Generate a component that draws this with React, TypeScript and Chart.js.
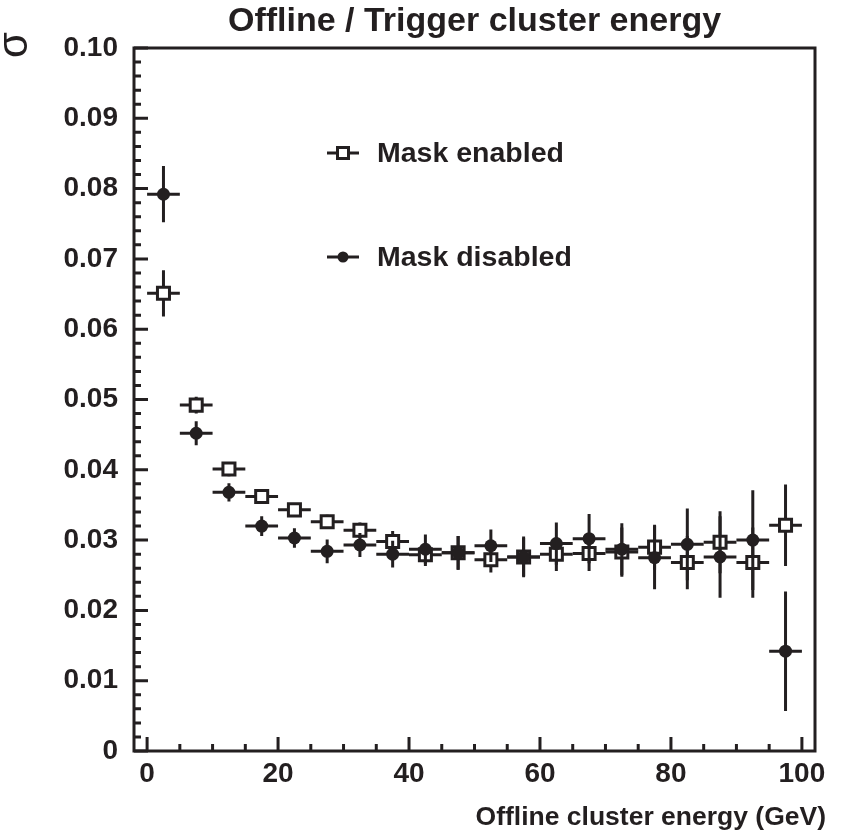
import React, { useEffect, useRef } from 'react';
import { Chart, registerables } from 'chart.js';

Chart.register(...registerables);

// ---- data ----
const binCenters = [2.5, 7.5, 12.5, 17.5, 22.5, 27.5, 32.5, 37.5, 42.5, 47.5, 52.5, 57.5, 62.5, 67.5, 72.5, 77.5, 82.5, 87.5, 92.5, 97.5];
const binHalfWidth = 2.5;
const maskEnabled = [0.0651, 0.0492, 0.0401, 0.0362, 0.0343, 0.0326, 0.0314, 0.0298, 0.0279, 0.0282, 0.0272, 0.0276, 0.0280, 0.0281, 0.0283, 0.0290, 0.0268, 0.0297, 0.0268, 0.0321];
const maskEnabledErr = [0.0033, 0.0012, 0.0010, 0.0009, 0.0009, 0.0010, 0.0011, 0.0015, 0.0016, 0.0024, 0.0018, 0.0027, 0.0024, 0.0025, 0.0035, 0.0032, 0.0038, 0.0044, 0.0050, 0.0058];
const maskDisabled = [0.0792, 0.0452, 0.0368, 0.0320, 0.0303, 0.0284, 0.0293, 0.0280, 0.0287, 0.0282, 0.0292, 0.0276, 0.0295, 0.0302, 0.0287, 0.0275, 0.0294, 0.0276, 0.0300, 0.0142];
const maskDisabledErr = [0.0040, 0.0017, 0.0013, 0.0014, 0.0014, 0.0017, 0.0017, 0.0019, 0.0021, 0.0024, 0.0023, 0.0029, 0.0030, 0.0035, 0.0037, 0.0045, 0.0051, 0.0058, 0.0071, 0.0085];
const xTickValues = [0, 20, 40, 60, 80, 100];
const xMinorTickValues = [5, 10, 15, 25, 30, 35, 45, 50, 55, 65, 70, 75, 85, 90, 95];
const yTickValues = [0, 0.01, 0.02, 0.03, 0.04, 0.05, 0.06, 0.07, 0.08, 0.09, 0.1];
const yMinorTickValues = [
  0.002, 0.004, 0.006, 0.008, 0.012, 0.014, 0.016, 0.018, 0.022, 0.024, 0.026, 0.028,
  0.032, 0.034, 0.036, 0.038, 0.042, 0.044, 0.046, 0.048, 0.052, 0.054, 0.056, 0.058,
  0.062, 0.064, 0.066, 0.068, 0.072, 0.074, 0.076, 0.078, 0.082, 0.084, 0.086, 0.088,
  0.092, 0.094, 0.096, 0.098,
];
const chartTitle = 'Offline / Trigger cluster energy';
const xAxisTitle = 'Offline cluster energy (GeV)';
const yAxisTitle = 'σ';

const INK = '#231f20';
const FONT = '"Liberation Sans", Arial, Helvetica, sans-serif';

const errorBarPlugin = {
  id: 'errorBars',
  beforeDatasetDraw(chart: any, args: any) {
    const ds = chart.data.datasets[args.index];
    if (!ds.errY) return;
    const xs = chart.scales.x;
    const ys = chart.scales.y;
    const ctx = chart.ctx;
    const area = chart.chartArea;
    ctx.save();
    ctx.beginPath();
    ctx.rect(area.left, area.top, area.right - area.left, area.bottom - area.top);
    ctx.clip();
    ctx.strokeStyle = INK;
    ctx.lineWidth = 3;
    ctx.lineCap = 'butt';
    ds.data.forEach((p: any, i: number) => {
      const e = ds.errY[i];
      const ex = ds.errX;
      const px = xs.getPixelForValue(p.x);
      const py = ys.getPixelForValue(p.y);
      ctx.beginPath();
      ctx.moveTo(px, ys.getPixelForValue(p.y - e));
      ctx.lineTo(px, ys.getPixelForValue(p.y + e));
      ctx.moveTo(xs.getPixelForValue(p.x - ex), py);
      ctx.lineTo(xs.getPixelForValue(p.x + ex), py);
      ctx.stroke();
    });
    ctx.restore();
  },
};

const decorPlugin = {
  id: 'decor',
  afterDraw(chart: any) {
    const ctx = chart.ctx;
    const { left, right, top, bottom } = chart.chartArea;
    const xs = chart.scales.x;
    const ys = chart.scales.y;
    ctx.save();
    ctx.strokeStyle = INK;
    ctx.lineWidth = 3;
    // ticks (inward)
    ctx.beginPath();
    xTickValues.forEach((v) => {
      const px = xs.getPixelForValue(v);
      ctx.moveTo(px, bottom);
      ctx.lineTo(px, bottom - 14);
    });
    xMinorTickValues.forEach((v) => {
      const px = xs.getPixelForValue(v);
      ctx.moveTo(px, bottom);
      ctx.lineTo(px, bottom - 7);
    });
    yTickValues.forEach((v) => {
      const py = ys.getPixelForValue(v);
      ctx.moveTo(left, py);
      ctx.lineTo(left + 14, py);
    });
    yMinorTickValues.forEach((v) => {
      const py = ys.getPixelForValue(v);
      ctx.moveTo(left, py);
      ctx.lineTo(left + 7, py);
    });
    ctx.stroke();
    // frame
    ctx.strokeRect(left, top, right - left, bottom - top);

    // title
    ctx.fillStyle = INK;
    ctx.font = `bold 34px ${FONT}`;
    ctx.textAlign = 'center';
    ctx.textBaseline = 'alphabetic';
    ctx.fillText(chartTitle, (left + right) / 2, 31);

    // x axis title
    ctx.font = `bold 26.5px ${FONT}`;
    ctx.textAlign = 'right';
    ctx.fillText(xAxisTitle, right + 11, 825);

    // y axis title (rotated)
    ctx.save();
    ctx.translate(12, 45);
    ctx.rotate(-Math.PI / 2);
    ctx.font = `42px ${FONT}`;
    ctx.textAlign = 'center';
    ctx.textBaseline = 'middle';
    ctx.fillText(yAxisTitle, 0, 3);
    ctx.restore();

    // legend
    const legendItems = [chart.data.datasets[1], chart.data.datasets[0]];
    legendItems.forEach((ds: any, k: number) => {
      const cx = left + 209;
      const cy = top + 105 + k * 104;
      ctx.lineWidth = 3;
      ctx.strokeStyle = INK;
      ctx.beginPath();
      ctx.moveTo(cx - 16, cy);
      ctx.lineTo(cx + 16, cy);
      ctx.stroke();
      if (ds.pointStyle === 'rect') {
        ctx.fillStyle = '#ffffff';
        ctx.fillRect(cx - 5.5, cy - 5.5, 11, 11);
        ctx.strokeRect(cx - 5.5, cy - 5.5, 11, 11);
      } else {
        ctx.fillStyle = INK;
        ctx.beginPath();
        ctx.arc(cx, cy, 5.5, 0, Math.PI * 2);
        ctx.fill();
      }
      ctx.fillStyle = INK;
      ctx.font = `bold 28.5px ${FONT}`;
      ctx.textAlign = 'left';
      ctx.textBaseline = 'middle';
      ctx.fillText(ds.label, cx + 34, cy + 1);
    });
    ctx.restore();
  },
};

export default function App() {
  const canvasRef = useRef<HTMLCanvasElement | null>(null);

  useEffect(() => {
    const canvas = canvasRef.current;
    if (!canvas) return;
    const chart = new Chart(canvas, {
      type: 'scatter',
      data: {
        datasets: [
          {
            label: 'Mask disabled',
            data: binCenters.map((x, i) => ({ x, y: maskDisabled[i] })),
            errY: maskDisabledErr,
            errX: binHalfWidth,
            pointStyle: 'circle',
            pointRadius: 6.5,
            pointBackgroundColor: INK,
            pointBorderColor: INK,
            pointBorderWidth: 0,
            showLine: false,
            order: 0,
          } as any,
          {
            label: 'Mask enabled',
            data: binCenters.map((x, i) => ({ x, y: maskEnabled[i] })),
            errY: maskEnabledErr,
            errX: binHalfWidth,
            pointStyle: 'rect',
            pointRadius: 8.5,
            pointBackgroundColor: '#ffffff',
            pointBorderColor: INK,
            pointBorderWidth: 3,
            showLine: false,
            order: 1,
          } as any,
        ],
      },
      options: {
        animation: false,
        responsive: false,
        devicePixelRatio: 1,
        layout: { padding: { top: 48, right: 28, left: 0, bottom: 0 } },
        plugins: {
          legend: { display: false },
          tooltip: { enabled: false },
          title: { display: false },
        },
        scales: {
          x: {
            type: 'linear',
            min: -2,
            max: 102,
            afterBuildTicks: (s: any) => {
              s.ticks = xTickValues.map((v) => ({ value: v }));
            },
            afterFit: (s: any) => {
              s.height = 81;
            },
            ticks: {
              color: INK,
              font: { family: FONT, size: 28, weight: 'bold' },
              padding: 6,
              maxRotation: 0,
              autoSkip: false,
              callback: (v: any) => String(v),
            },
            grid: { display: false, drawTicks: false },
            border: { display: false },
          },
          y: {
            type: 'linear',
            min: 0,
            max: 0.1,
            afterBuildTicks: (s: any) => {
              s.ticks = yTickValues.map((v) => ({ value: v }));
            },
            afterFit: (s: any) => {
              s.width = 134;
            },
            ticks: {
              color: INK,
              font: { family: FONT, size: 28, weight: 'bold' },
              padding: 16,
              autoSkip: false,
              callback: (v: any) => (v === 0 ? '0' : Number(v).toFixed(2)),
            },
            grid: { display: false, drawTicks: false },
            border: { display: false },
          },
        },
      } as any,
      plugins: [errorBarPlugin, decorPlugin],
    });
    return () => chart.destroy();
  }, []);

  return (
    <div style={{ position: 'absolute', left: 0, top: 0, width: 843, height: 832, background: '#fff' }}>
      <canvas ref={canvasRef} width={843} height={832} style={{ display: 'block', width: 843, height: 832 }} />
    </div>
  );
}
